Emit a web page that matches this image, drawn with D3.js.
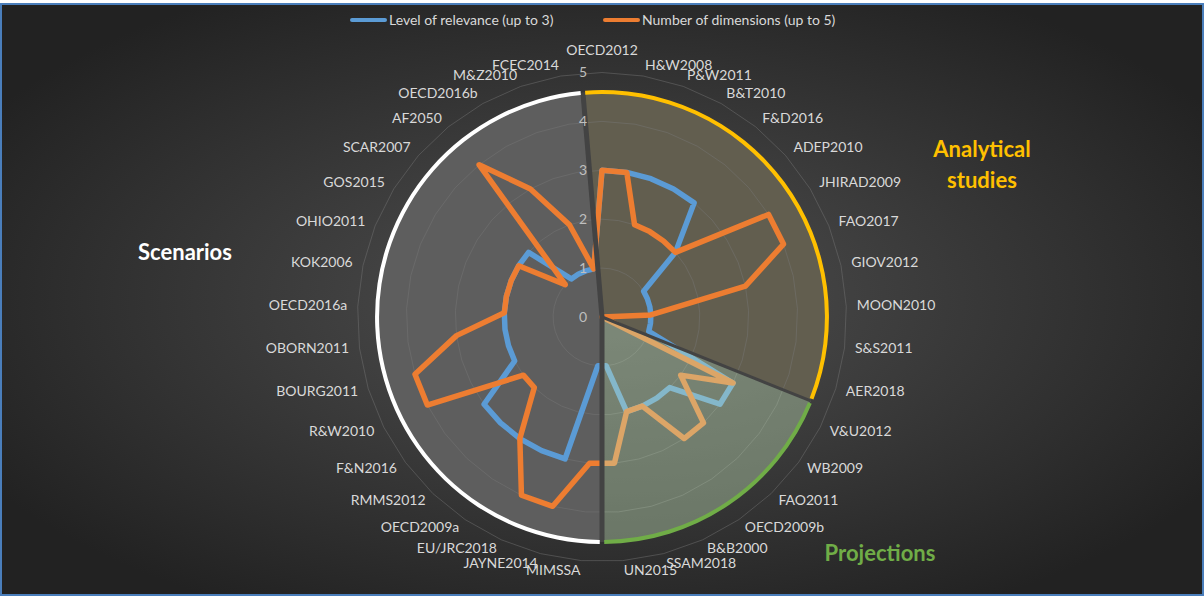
<!DOCTYPE html>
<html>
<head>
<meta charset="utf-8">
<script src="https://cdn.jsdelivr.net/npm/d3@7"></script>
<style>
    body { margin: 0; background: #fff; }
    svg { display: block; font-family: Lato, "Open Sans", sans-serif; }
</style>
</head>
<body>
<div id="chart"></div>
<script>
// categories clockwise from the top
const categories = [
    "OECD2012", "H&W2008", "P&W2011", "B&T2010", "F&D2016", "ADEP2010",
    "JHIRAD2009", "FAO2017", "GIOV2012", "MOON2010", "S&S2011", "AER2018",
    "V&U2012", "WB2009", "FAO2011", "OECD2009b", "B&B2000", "SSAM2018", "UN2015",
    "MIMSSA", "JAYNE2014", "EU/JRC2018", "OECD2009a", "RMMS2012", "F&N2016",
    "R&W2010", "BOURG2011", "OBORN2011", "OECD2016a", "KOK2006", "OHIO2011",
    "GOS2015", "SCAR2007", "AF2050", "OECD2016b", "M&Z2010", "FCEC2014"
];
const relevance = [
    3, 3, 3, 3, 3, 2, 1, 1, 1, 1, 1, 1,
    3, 3, 2, 2, 2, 2, 1,
    1, 3, 3, 3, 3, 3, 2, 2, 2, 2, 2, 2, 2, 2, 1, 1, 1, 1
];
const dimensions = [
    3, 3, 2, 2, 2, 2, 4, 4, 3, 1, 0, 0,
    3, 2, 3, 3, 2, 2, 3,
    3, 4, 4, 3, 2, 2, 4, 4, 3, 2, 2, 2, 2, 1, 4, 3, 2, 1
];
const seriesNames = ["Level of relevance (up to 3)", "Number of dimensions (up to 5)"];
const groupNames = ["Analytical studies", "Projections", "Scenarios"];
const groupSizes = [12, 7, 18];
const groupReach = 4.6; // the shaded sectors stop a little inside the 5 ring
const ticks = [0, 1, 2, 3, 4, 5];

const w = 1204;
const h = 597;
const cx = 602;
const cy = 317;

const n = categories.length;
const angle = d3.scaleLinear().domain([0, n]).range([0, 2 * Math.PI]);
const r = d3.scaleLinear().domain([0, 5]).range([0, 244.5]);

const svg = d3.select("#chart").append("svg").attr("width", w).attr("height", h);

const defs = svg.append("defs");
const grad = defs.append("radialGradient").attr("id", "bg")
    .attr("cx", "50%").attr("cy", "50%").attr("r", "60%");
grad.append("stop").attr("offset", "0%").attr("stop-color", "#505050");
grad.append("stop").attr("offset", "100%").attr("stop-color", "#222");

// white strip at the top where the caption is cut off
svg.append("rect").attr("width", w).attr("height", 4).attr("fill", "#fff");
svg.append("rect")
    .attr("x", 1).attr("y", 4).attr("width", w - 2).attr("height", h - 6)
    .attr("fill", "url(#bg)")
    .attr("stroke", "#4a7ebb").attr("stroke-width", 2);

const g = svg.append("g").attr("transform", `translate(${cx},${cy})`);

// group sectors, from start/end index of each group
let start = 0;
const groups = groupNames.map((name, i) => {
    const s = { name, start, end: start + groupSizes[i] };
    start += groupSizes[i];
    return s;
});
const groupFill = ["#625e4f", "rgba(196,224,184,0.4)", "#5e5e5e"];
const groupEdge = ["#FFC000", "#70AD47", "#ffffff"];

const arcFill = d3.arc().innerRadius(0).outerRadius(r(groupReach))
    .startAngle((d) => angle(d.start - 0.5)).endAngle((d) => angle(d.end - 0.5));
const arcEdge = d3.arc().innerRadius(r(groupReach) - 2).outerRadius(r(groupReach) + 2)
    .startAngle((d) => angle(d.start - 0.5) + 0.01).endAngle((d) => angle(d.end - 0.5) - 0.01);

const under = g.append("g");
under.selectAll("path.sector")
    .data(groups.filter((d, i) => i !== 1))
    .enter().append("path")
    .attr("class", "sector")
    .attr("d", arcFill)
    .attr("fill", (d) => groupFill[groupNames.indexOf(d.name)]);

// radar grid polygons
const gridLine = d3.lineRadial()
    .angle((d, i) => angle(i))
    .radius((d) => r(d))
    .curve(d3.curveLinearClosed);

g.selectAll("path.grid")
    .data(ticks.slice(1))
    .enter().append("path")
    .attr("class", "grid")
    .attr("d", (t) => gridLine(categories.map(() => t)))
    .attr("fill", "none")
    .attr("stroke", "#777")
    .attr("stroke-opacity", 0.45)
    .attr("stroke-width", 1);

// series
const seriesColors = ["#5B9BD5", "#ED7D31"];
g.selectAll("path.series")
    .data([relevance, dimensions])
    .enter().append("path")
    .attr("class", "series")
    .attr("d", (d) => gridLine(d))
    .attr("fill", "none")
    .attr("stroke", (d, i) => seriesColors[i])
    .attr("stroke-width", 5.5)
    .attr("stroke-linejoin", "round");

// projections sector lies on top of the lines
g.append("path")
    .datum(groups[1])
    .attr("d", arcFill)
    .attr("fill", groupFill[1]);

// dark borders between sectors
g.selectAll("line.border")
    .data(groups)
    .enter().append("line")
    .attr("class", "border")
    .attr("x1", 0).attr("y1", 0)
    .attr("x2", (d) => r(groupReach) * Math.sin(angle(d.start - 0.5)))
    .attr("y2", (d) => -r(groupReach) * Math.cos(angle(d.start - 0.5)))
    .attr("stroke", "#434343")
    .attr("stroke-width", (d, i) => (i === 1 ? 3 : 5));

g.selectAll("path.edge")
    .data(groups)
    .enter().append("path")
    .attr("class", "edge")
    .attr("d", arcEdge)
    .attr("fill", (d, i) => groupEdge[i]);

// value axis labels
g.selectAll("text.tick")
    .data(ticks)
    .enter().append("text")
    .attr("class", "tick")
    .attr("x", -15)
    .attr("y", (d) => -r(d))
    .attr("dy", "0.35em")
    .attr("text-anchor", "end")
    .attr("fill", "#bfbfbf")
    .attr("font-size", 14)
    .text((d) => d);

// category labels
const labelR = 255;
g.selectAll("text.cat")
    .data(categories)
    .enter().append("text")
    .attr("class", "cat")
    .attr("x", (d, i) => labelR * Math.sin(angle(i)))
    .attr("y", (d, i) => -labelR * Math.cos(angle(i)) - 1 - (i === 0 ? 11 : 0))
    .attr("dy", "0.35em")
    .attr("text-anchor", (d, i) => {
        const s = Math.sin(angle(i));
        return s > 0.03 ? "start" : s < -0.03 ? "end" : "middle";
    })
    .attr("fill", "#d9d9d9")
    .attr("font-size", 14)
    .text((d) => d);

// group names
const groupText = svg.append("g")
    .attr("font-weight", "bold")
    .attr("font-size", 22)
    .attr("text-anchor", "middle");
groupText.append("text").attr("x", 982).attr("y", 157).attr("fill", groupEdge[0]).text("Analytical");
groupText.append("text").attr("x", 982).attr("y", 188).attr("fill", groupEdge[0]).text("studies");
groupText.append("text").attr("x", 880).attr("y", 561).attr("fill", groupEdge[1]).text(groupNames[1]);
groupText.append("text").attr("x", 185).attr("y", 260).attr("fill", groupEdge[2]).text(groupNames[2]);

// legend
const legend = svg.append("g").attr("transform", "translate(350,20)");
const legendX = [0, 253];
seriesNames.forEach((name, i) => {
    legend.append("line")
        .attr("x1", legendX[i] + 2).attr("x2", legendX[i] + 35)
        .attr("stroke", seriesColors[i])
        .attr("stroke-width", 4)
        .attr("stroke-linecap", "round");
    legend.append("text")
        .attr("x", legendX[i] + 39)
        .attr("dy", "0.35em")
        .attr("fill", "#d9d9d9")
        .attr("font-size", 14)
        .text(name);
});
</script>
</body>
</html>
